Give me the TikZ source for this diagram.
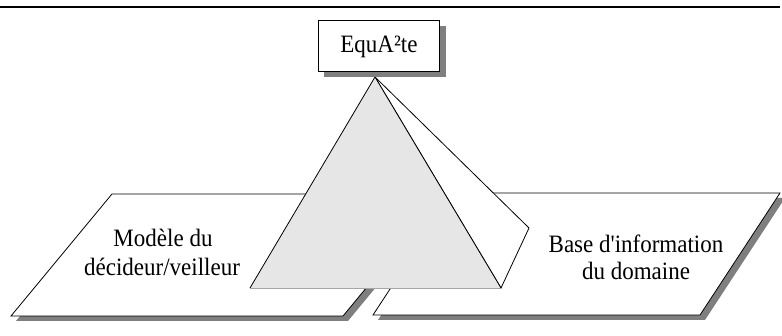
\documentclass[tikz,border=0pt]{standalone}
\usepackage{fontspec}
\setmainfont{Liberation Serif}
\usepackage{graphicx}
\definecolor{shadowgray}{HTML}{7F7F7F}
\definecolor{facegray}{HTML}{E6E6E6}
\newcommand{\sqz}[1]{\scalebox{0.92}[1]{#1}}
\begin{document}
\begin{tikzpicture}[x=1pt,y=-1pt,
  outline/.style={draw=black,line width=0.8pt,line join=miter},
  txt/.style={inner sep=0pt,anchor=base,font=\fontsize{25}{30}\selectfont}]
\useasboundingbox (0,0) rectangle (782,336);
% top rule
\draw[line width=1.2pt] (0,7) -- (780,7);
% parallelogram corners
\coordinate (L1) at (11,316); \coordinate (L2) at (343,316);
\coordinate (L3) at (444,194); \coordinate (L4) at (112,194);
\coordinate (R1) at (373,315); \coordinate (R2) at (700,315);
\coordinate (R3) at (780,193); \coordinate (R4) at (453,193);
% shadows
\fill[shadowgray] ([shift={(5,5)}]L1) -- ([shift={(5,5)}]L2) -- ([shift={(5,5)}]L3) -- ([shift={(5,5)}]L4) -- cycle;
\fill[shadowgray] ([shift={(5,5)}]R1) -- ([shift={(5,5)}]R2) -- ([shift={(5,5)}]R3) -- ([shift={(5,5)}]R4) -- cycle;
% planes
\filldraw[outline,fill=white] (L1) -- (L2) -- (L3) -- (L4) -- cycle;
\filldraw[outline,fill=white] (R1) -- (R2) -- (R3) -- (R4) -- cycle;
% pyramid
\coordinate (apex) at (375,77);
\coordinate (bl) at (250,288);
\coordinate (br) at (501,288);
\coordinate (side) at (529,228);
\filldraw[outline,fill=white] (apex) -- (side) -- (br) -- cycle;
\fill[facegray] (apex) -- (bl) -- (br) -- cycle;
\draw[line width=0.8pt,draw=gray!70] (bl) -- (br);
\draw[outline] (bl) -- (apex) -- (br);
% box shadow and box
\coordinate (bs1) at (324,26);
\coordinate (bs2) at (446,77);
\fill[shadowgray] (bs1) rectangle (bs2);
\node[outline,fill=white,minimum width=121pt,minimum height=51pt,inner sep=0pt] (box) at (378.5,45.5) {};
\node[txt] (title) at (379,53) {\sqz{EquA²te}};
% texts
\node[txt] (m1) at (163,247) {\sqz{Modèle du}};
\node[txt] (m2) at (162,276) {\sqz{décideur/veilleur}};
\node[txt] (b1) at (636,253) {\sqz{Base d\textquotesingle information}};
\node[txt] (b2) at (636,280) {\sqz{du domaine}};
\end{tikzpicture}
\end{document}
